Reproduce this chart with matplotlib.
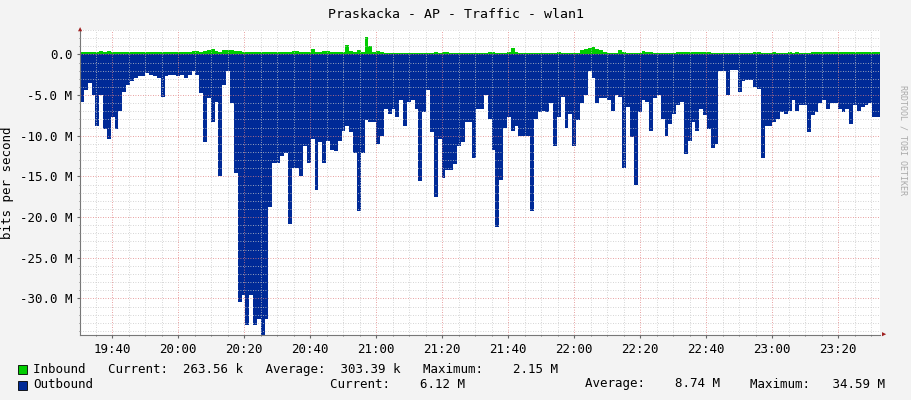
import matplotlib
matplotlib.use('Agg')
import matplotlib.pyplot as plt
import numpy as np
from matplotlib.ticker import MultipleLocator, FixedLocator

# outbound traffic, Mbit/s, one sample every ~1.2 min starting 19:30
outbound = [
    5.8, 4.4, 3.5, 5.0, 8.75, 5.0, 9.2, 10.4, 7.7, 9.2, 6.9, 4.6, 3.75, 3.3, 2.9, 2.7, 2.7, 2.3, 2.5, 2.7,
    2.9, 5.2, 2.7, 2.5, 2.5, 2.7, 2.5, 2.9, 2.5, 2.1, 2.5, 4.8, 10.8, 5.4, 8.3, 5.8, 15.0, 3.75, 2.1, 6.0,
    14.6, 30.4, 29.6, 33.3, 29.6, 33.3, 32.5, 35.0, 32.5, 18.75, 13.3, 13.3,
    12.5, 12.1, 20.8, 14.0, 14.0, 15.0, 11.25, 13.3, 10.4, 16.7, 10.8, 13.3, 10.6, 11.7, 11.9, 10.6, 9.4, 8.75,
    9.6, 12.1, 19.2, 12.1, 8.1, 8.3, 8.3, 11.0, 10.0, 6.7, 7.3, 6.7, 7.7, 5.6, 8.75, 5.8, 5.6, 6.7, 15.6, 7.1,
    4.4, 9.6, 17.5, 10.4, 15.2, 14.2, 14.2, 13.5, 11.25, 10.8, 8.3, 8.3, 12.7, 6.7,
    6.7, 5.0, 7.9, 11.7, 21.25, 15.4, 9.0, 7.7, 9.4, 8.75, 10.0, 10.0, 10.0, 19.2, 7.9, 7.1, 6.9, 7.1, 6.0, 11.25,
    7.7, 5.2, 9.0, 7.3, 11.25, 8.1, 6.0, 5.0, 2.1, 2.9, 6.0, 5.4, 5.4, 5.6, 6.9, 5.0, 5.2, 14.0, 6.5, 10.2,
    16.0, 7.1, 5.6, 5.8, 9.4, 5.4, 5.0, 7.9, 10.0, 8.5, 7.3,
    6.25, 5.8, 12.3, 10.6, 8.3, 9.4, 6.7, 7.5, 9.2, 11.5, 11.0, 2.1, 2.1, 5.0, 1.9, 1.9, 4.6, 3.3, 3.1, 3.1,
    4.0, 4.2, 12.7, 8.75, 8.75, 8.3, 7.9, 7.1, 7.3, 6.9, 5.6, 6.9, 6.25, 6.25, 9.6, 7.5, 7.1, 6.0, 5.6, 6.7,
    6.0, 6.0, 6.7, 7.1, 6.7, 8.5, 6.25, 6.9, 6.5, 6.25, 6.0, 7.7, 7.7,
]
# inbound traffic, Mbit/s
inbound = [
    0.3, 0.3, 0.3, 0.3, 0.35, 0.45, 0.3, 0.4, 0.3, 0.3, 0.3, 0.3, 0.3, 0.35, 0.3, 0.3, 0.3, 0.3, 0.3, 0.3,
    0.3, 0.35, 0.3, 0.3, 0.3, 0.3, 0.3, 0.3, 0.3, 0.4, 0.4, 0.35, 0.4, 0.5, 0.7, 0.45, 0.3, 0.6, 0.6, 0.5,
    0.45, 0.4, 0.3, 0.3, 0.3, 0.3, 0.3, 0.3, 0.3, 0.3, 0.3, 0.3,
    0.3, 0.35, 0.35, 0.4, 0.45, 0.35, 0.3, 0.3, 0.7, 0.35, 0.3, 0.4, 0.4, 0.3, 0.3, 0.3, 0.3, 1.1,
    0.4, 0.3, 0.6, 0.3, 2.15, 1.0, 0.3, 0.4, 0.3, 0.2, 0.2, 0.2, 0.2, 0.2, 0.2, 0.2, 0.2, 0.2, 0.2, 0.2,
    0.2, 0.2, 0.25, 0.2, 0.25, 0.25, 0.2, 0.2, 0.2, 0.2, 0.2, 0.2, 0.2, 0.2,
    0.2, 0.2, 0.25, 0.3, 0.2, 0.2, 0.2, 0.3, 0.8, 0.3, 0.2, 0.2, 0.2, 0.2, 0.2, 0.2, 0.2, 0.2, 0.2, 0.2,
    0.3, 0.2, 0.2, 0.2, 0.2, 0.2, 0.6, 0.7, 0.8, 0.9, 0.7, 0.6, 0.3, 0.2, 0.2, 0.2, 0.5, 0.3, 0.2, 0.2,
    0.2, 0.2, 0.4, 0.3, 0.3, 0.2, 0.2, 0.2, 0.2, 0.2, 0.2,
    0.3, 0.3, 0.35, 0.3, 0.3, 0.3, 0.35, 0.3, 0.3, 0.2, 0.2, 0.2, 0.2, 0.2, 0.2, 0.2, 0.2, 0.2, 0.2, 0.2,
    0.35, 0.3, 0.2, 0.2, 0.2, 0.3, 0.2, 0.2, 0.2, 0.35, 0.2, 0.3, 0.2, 0.2, 0.2, 0.3, 0.3, 0.3, 0.3, 0.3,
    0.3, 0.3, 0.3, 0.3, 0.3, 0.3, 0.3, 0.3, 0.3, 0.3, 0.3, 0.3, 0.3,
]
tick_minutes = [10, 30, 50, 70, 90, 110, 130, 150, 170, 190, 210, 230]
tick_labels = ['19:40', '20:00', '20:20', '20:40', '21:00', '21:20', '21:40',
               '22:00', '22:20', '22:40', '23:00', '23:20']
ytick_vals = [0, -5, -10, -15, -20, -25, -30]
ytick_labels = ['0.0', '-5.0 M', '-10.0 M', '-15.0 M', '-20.0 M', '-25.0 M', '-30.0 M']

T_START, T_END = 0.3, 242.7
n = len(outbound)
t = np.linspace(T_START, T_END, n + 1)
out_v = -np.array(outbound)
in_v = np.array(inbound[:n]) if len(inbound) >= n else np.pad(inbound, (0, n - len(inbound)), mode='edge')

plt.rcParams['font.family'] = 'DejaVu Sans Mono'
bg = '#F3F3F3'
fig = plt.figure(figsize=(9.11, 4.0), dpi=100, facecolor=bg)
ax = fig.add_axes([80/911, 1 - 335/400, 800/911, 305/400])
ax.set_facecolor('white')

ax.stairs(out_v, t, baseline=0, fill=True, color='#002A97', lw=0)
ax.stairs(in_v, t, baseline=0, fill=True, color='#00CC00', lw=0)

ax.set_xlim(T_START, T_END)
ax.set_ylim(-34.5, 3.0)

# grid like rrdtool
ax.xaxis.set_minor_locator(MultipleLocator(5))
ax.yaxis.set_minor_locator(MultipleLocator(1))
ax.grid(which='minor', color='#C8C8C8', ls=(0, (1, 2)), lw=0.6)
ax.grid(which='major', color='#E08080', ls=(0, (1, 2)), lw=0.6)
ax.set_axisbelow(False)
ax.xaxis.set_major_locator(FixedLocator(tick_minutes))
ax.set_xticklabels(tick_labels)
ax.set_yticks(ytick_vals)
ax.set_yticklabels(ytick_labels)
ax.tick_params(which='both', length=2, color='#666666', labelsize=9)
ax.tick_params(which='minor', length=1)
for s in ['top', 'right']:
    ax.spines[s].set_visible(False)
for s in ['left', 'bottom']:
    ax.spines[s].set_color('#777777')
ax.set_ylabel('bits per second', fontsize=9)

# axis arrows
fig.text(80/911, 1 - 30/400, '▲', color='#A02020', fontsize=5, ha='center', va='center')
fig.text(884/911, 1 - 335/400, '▶', color='#A02020', fontsize=5, ha='center', va='center')

fig.text(0.5, 1 - 14/400, 'Praskacka - AP - Traffic - wlan1', ha='center', va='center', fontsize=9.5)
fig.text(903/911, 0.5 + 60/400, 'RRDTOOL / TOBI OETIKER', rotation=270, ha='center', va='center',
         fontsize=6, color='#AAAAAA')

fig.patches.append(plt.Rectangle((18/911, 1 - 374/400), 9/911, 9/400, transform=fig.transFigure,
                                 facecolor='#00CC00', edgecolor='black', lw=0.6))
fig.patches.append(plt.Rectangle((18/911, 1 - 390/400), 9/911, 9/400, transform=fig.transFigure,
                                 facecolor='#002A97', edgecolor='black', lw=0.6))
fig.text(33/911, 1 - 369/400, 'Inbound   Current:  263.56 k   Average:  303.39 k   Maximum:    2.15 M',
         va='center', fontsize=9)
fig.text(33/911, 1 - 384/400, 'Outbound', va='center', fontsize=9)
fig.text(330/911, 1 - 384/400, 'Current:    6.12 M', va='center', fontsize=9)
fig.text(585/911, 1 - 384/400, 'Average:    8.74 M', va='center', fontsize=9)
fig.text(750/911, 1 - 384/400, 'Maximum:   34.59 M', va='center', fontsize=9)

fig.savefig('out.png', dpi=100, facecolor=bg)
